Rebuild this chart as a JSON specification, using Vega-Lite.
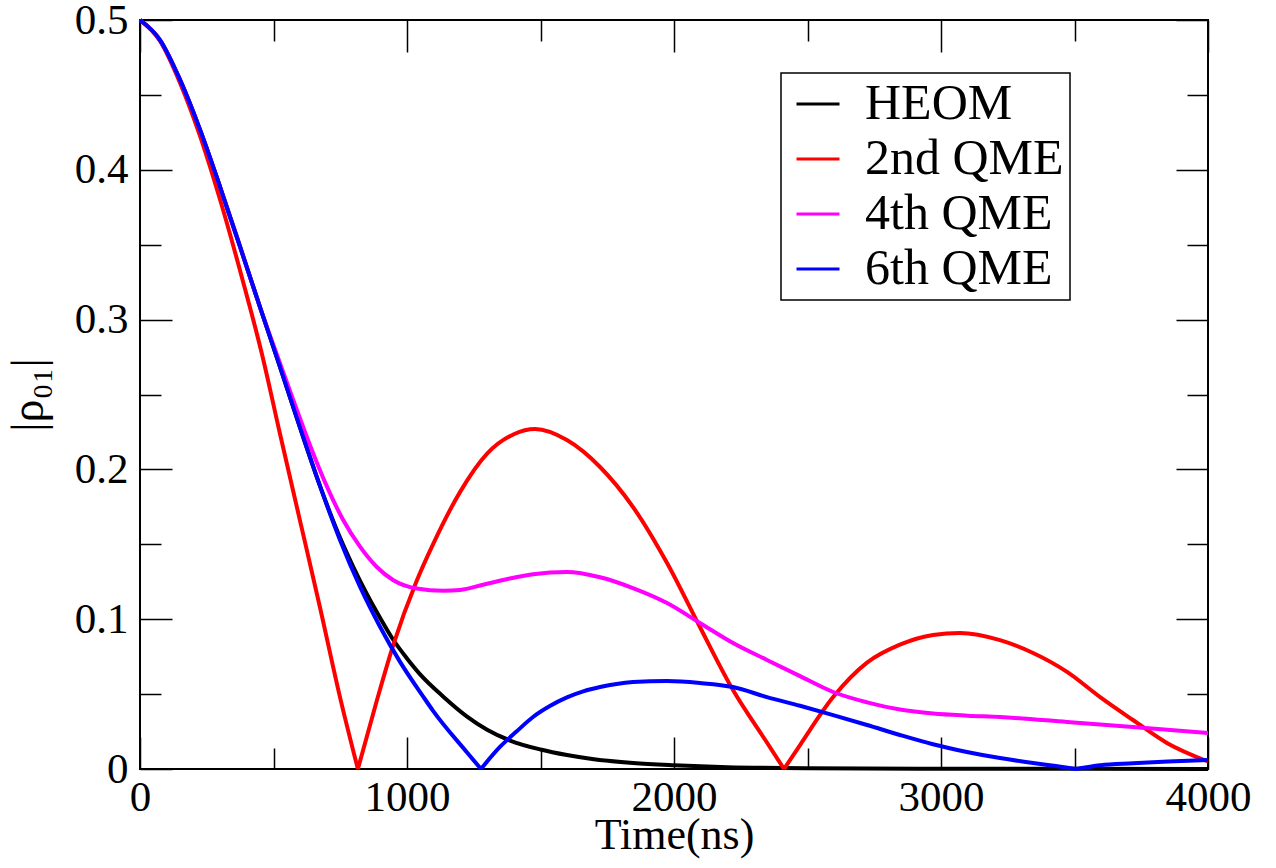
{
  "$schema": "https://vega.github.io/schema/vega-lite/v6.json",
  "width": 1068,
  "height": 749,
  "autosize": {"type": "none"},
  "padding": {"left": 140, "top": 20, "right": 68, "bottom": 99},
  "background": "white",
  "config": {
    "view": {"stroke": "black", "strokeWidth": 2},
    "font": "Liberation Serif",
    "axis": {"domain": false, "grid": false, "tickColor": "black", "tickWidth": 1.5, "labelFont": "Liberation Serif", "titleFont": "Liberation Serif", "labelColor": "black", "titleColor": "black", "titleFontWeight": "normal", "labelFlush": false, "labelOverlap": false}
  },
  "data": {"values": [
    {"s":"HEOM","g":"h","t":0,"v":0.5},{"s":"HEOM","g":"h","t":75,"v":0.4866},{"s":"HEOM","g":"h","t":150,"v":0.46},{"s":"HEOM","g":"h","t":225,"v":0.4266},{"s":"HEOM","g":"h","t":300,"v":0.3885},{"s":"HEOM","g":"h","t":375,"v":0.3485},{"s":"HEOM","g":"h","t":450,"v":0.308},{"s":"HEOM","g":"h","t":524,"v":0.2686},{"s":"HEOM","g":"h","t":600,"v":0.2275},{"s":"HEOM","g":"h","t":674,"v":0.189},{"s":"HEOM","g":"h","t":749,"v":0.1545},{"s":"HEOM","g":"h","t":800,"v":0.1345},{"s":"HEOM","g":"h","t":849,"v":0.117},{"s":"HEOM","g":"h","t":899,"v":0.101},{"s":"HEOM","g":"h","t":949,"v":0.0861},{"s":"HEOM","g":"h","t":1000,"v":0.0738},{"s":"HEOM","g":"h","t":1050,"v":0.063},{"s":"HEOM","g":"h","t":1136,"v":0.0483},{"s":"HEOM","g":"h","t":1225,"v":0.035},{"s":"HEOM","g":"h","t":1300,"v":0.0262},{"s":"HEOM","g":"h","t":1386,"v":0.019},{"s":"HEOM","g":"h","t":1500,"v":0.013},{"s":"HEOM","g":"h","t":1599,"v":0.0093},{"s":"HEOM","g":"h","t":1700,"v":0.0065},{"s":"HEOM","g":"h","t":1847,"v":0.004},{"s":"HEOM","g":"h","t":2000,"v":0.0025},{"s":"HEOM","g":"h","t":2200,"v":0.0012},{"s":"HEOM","g":"h","t":2500,"v":0.0005},{"s":"HEOM","g":"h","t":3000,"v":0.0002},{"s":"HEOM","g":"h","t":3500,"v":0.0001},{"s":"HEOM","g":"h","t":4000,"v":0},
    {"s":"2nd QME","g":"r1","t":0,"v":0.5},{"s":"2nd QME","g":"r1","t":75,"v":0.486},{"s":"2nd QME","g":"r1","t":150,"v":0.458},{"s":"2nd QME","g":"r1","t":225,"v":0.4225},{"s":"2nd QME","g":"r1","t":300,"v":0.38},{"s":"2nd QME","g":"r1","t":385,"v":0.326},{"s":"2nd QME","g":"r1","t":456,"v":0.2775},{"s":"2nd QME","g":"r1","t":524,"v":0.224},{"s":"2nd QME","g":"r1","t":599,"v":0.166},{"s":"2nd QME","g":"r1","t":674,"v":0.108},{"s":"2nd QME","g":"r1","t":749,"v":0.048},{"s":"2nd QME","g":"r1","t":816,"v":0},
    {"s":"2nd QME","g":"r2","t":816,"v":0},{"s":"2nd QME","g":"r2","t":886,"v":0.045},{"s":"2nd QME","g":"r2","t":949,"v":0.083},{"s":"2nd QME","g":"r2","t":1036,"v":0.1255},{"s":"2nd QME","g":"r2","t":1100,"v":0.151},{"s":"2nd QME","g":"r2","t":1199,"v":0.185},{"s":"2nd QME","g":"r2","t":1300,"v":0.2105},{"s":"2nd QME","g":"r2","t":1400,"v":0.2235},{"s":"2nd QME","g":"r2","t":1480,"v":0.227},{"s":"2nd QME","g":"r2","t":1599,"v":0.2196},{"s":"2nd QME","g":"r2","t":1723,"v":0.2016},{"s":"2nd QME","g":"r2","t":1846,"v":0.175},{"s":"2nd QME","g":"r2","t":1974,"v":0.1375},{"s":"2nd QME","g":"r2","t":2097,"v":0.0948},{"s":"2nd QME","g":"r2","t":2221,"v":0.0527},{"s":"2nd QME","g":"r2","t":2348,"v":0.0177},{"s":"2nd QME","g":"r2","t":2412,"v":0},
    {"s":"2nd QME","g":"r3","t":2412,"v":0},{"s":"2nd QME","g":"r3","t":2472,"v":0.016},{"s":"2nd QME","g":"r3","t":2596,"v":0.048},{"s":"2nd QME","g":"r3","t":2723,"v":0.071},{"s":"2nd QME","g":"r3","t":2846,"v":0.083},{"s":"2nd QME","g":"r3","t":2970,"v":0.0895},{"s":"2nd QME","g":"r3","t":3071,"v":0.0908},{"s":"2nd QME","g":"r3","t":3221,"v":0.086},{"s":"2nd QME","g":"r3","t":3345,"v":0.0774},{"s":"2nd QME","g":"r3","t":3472,"v":0.0648},{"s":"2nd QME","g":"r3","t":3596,"v":0.048},{"s":"2nd QME","g":"r3","t":3719,"v":0.0327},{"s":"2nd QME","g":"r3","t":3846,"v":0.0174},{"s":"2nd QME","g":"r3","t":4000,"v":0.005},
    {"s":"4th QME","g":"m","t":0,"v":0.5},{"s":"4th QME","g":"m","t":75,"v":0.4866},{"s":"4th QME","g":"m","t":150,"v":0.46},{"s":"4th QME","g":"m","t":225,"v":0.4266},{"s":"4th QME","g":"m","t":300,"v":0.3885},{"s":"4th QME","g":"m","t":375,"v":0.3485},{"s":"4th QME","g":"m","t":450,"v":0.308},{"s":"4th QME","g":"m","t":524,"v":0.271},{"s":"4th QME","g":"m","t":574,"v":0.2463},{"s":"4th QME","g":"m","t":637,"v":0.216},{"s":"4th QME","g":"m","t":699,"v":0.189},{"s":"4th QME","g":"m","t":761,"v":0.1662},{"s":"4th QME","g":"m","t":824,"v":0.1484},{"s":"4th QME","g":"m","t":886,"v":0.135},{"s":"4th QME","g":"m","t":949,"v":0.126},{"s":"4th QME","g":"m","t":1036,"v":0.1205},{"s":"4th QME","g":"m","t":1136,"v":0.119},{"s":"4th QME","g":"m","t":1199,"v":0.1195},{"s":"4th QME","g":"m","t":1285,"v":0.123},{"s":"4th QME","g":"m","t":1380,"v":0.127},{"s":"4th QME","g":"m","t":1472,"v":0.13},{"s":"4th QME","g":"m","t":1599,"v":0.1315},{"s":"4th QME","g":"m","t":1723,"v":0.128},{"s":"4th QME","g":"m","t":1846,"v":0.1208},{"s":"4th QME","g":"m","t":1974,"v":0.1108},{"s":"4th QME","g":"m","t":2097,"v":0.0975},{"s":"4th QME","g":"m","t":2221,"v":0.0841},{"s":"4th QME","g":"m","t":2348,"v":0.0728},{"s":"4th QME","g":"m","t":2472,"v":0.062},{"s":"4th QME","g":"m","t":2596,"v":0.0514},{"s":"4th QME","g":"m","t":2723,"v":0.0445},{"s":"4th QME","g":"m","t":2846,"v":0.0397},{"s":"4th QME","g":"m","t":2970,"v":0.037},{"s":"4th QME","g":"m","t":3100,"v":0.0356},{"s":"4th QME","g":"m","t":3221,"v":0.0347},{"s":"4th QME","g":"m","t":3472,"v":0.0314},{"s":"4th QME","g":"m","t":3719,"v":0.028},{"s":"4th QME","g":"m","t":4000,"v":0.024},
    {"s":"6th QME","g":"b1","t":0,"v":0.5},{"s":"6th QME","g":"b1","t":75,"v":0.4866},{"s":"6th QME","g":"b1","t":150,"v":0.46},{"s":"6th QME","g":"b1","t":225,"v":0.4266},{"s":"6th QME","g":"b1","t":300,"v":0.3885},{"s":"6th QME","g":"b1","t":375,"v":0.3485},{"s":"6th QME","g":"b1","t":450,"v":0.308},{"s":"6th QME","g":"b1","t":524,"v":0.2686},{"s":"6th QME","g":"b1","t":600,"v":0.2275},{"s":"6th QME","g":"b1","t":674,"v":0.189},{"s":"6th QME","g":"b1","t":749,"v":0.1529},{"s":"6th QME","g":"b1","t":824,"v":0.1217},{"s":"6th QME","g":"b1","t":899,"v":0.095},{"s":"6th QME","g":"b1","t":974,"v":0.0715},{"s":"6th QME","g":"b1","t":1060,"v":0.0485},{"s":"6th QME","g":"b1","t":1097,"v":0.039},{"s":"6th QME","g":"b1","t":1225,"v":0.011},{"s":"6th QME","g":"b1","t":1277,"v":0},
    {"s":"6th QME","g":"b2","t":1277,"v":0},{"s":"6th QME","g":"b2","t":1348,"v":0.0147},{"s":"6th QME","g":"b2","t":1410,"v":0.025},{"s":"6th QME","g":"b2","t":1472,"v":0.0347},{"s":"6th QME","g":"b2","t":1535,"v":0.042},{"s":"6th QME","g":"b2","t":1599,"v":0.0478},{"s":"6th QME","g":"b2","t":1660,"v":0.0518},{"s":"6th QME","g":"b2","t":1723,"v":0.0547},{"s":"6th QME","g":"b2","t":1785,"v":0.0568},{"s":"6th QME","g":"b2","t":1846,"v":0.058},{"s":"6th QME","g":"b2","t":1974,"v":0.0587},{"s":"6th QME","g":"b2","t":2097,"v":0.0574},{"s":"6th QME","g":"b2","t":2221,"v":0.0547},{"s":"6th QME","g":"b2","t":2348,"v":0.048},{"s":"6th QME","g":"b2","t":2472,"v":0.0422},{"s":"6th QME","g":"b2","t":2596,"v":0.036},{"s":"6th QME","g":"b2","t":2723,"v":0.0294},{"s":"6th QME","g":"b2","t":2846,"v":0.0227},{"s":"6th QME","g":"b2","t":2970,"v":0.0165},{"s":"6th QME","g":"b2","t":3097,"v":0.0114},{"s":"6th QME","g":"b2","t":3221,"v":0.0073},{"s":"6th QME","g":"b2","t":3345,"v":0.004},{"s":"6th QME","g":"b2","t":3430,"v":0.002},{"s":"6th QME","g":"b2","t":3505,"v":0},
    {"s":"6th QME","g":"b3","t":3505,"v":0},{"s":"6th QME","g":"b3","t":3596,"v":0.0025},{"s":"6th QME","g":"b3","t":3719,"v":0.0038},{"s":"6th QME","g":"b3","t":3850,"v":0.005},{"s":"6th QME","g":"b3","t":4000,"v":0.006}
  ]},
  "layer": [
    {
      "mark": {"type": "line", "strokeWidth": 4, "interpolate": "monotone"},
      "encoding": {
        "x": {"field": "t", "type": "quantitative", "scale": {"domain": [0, 4000], "nice": false},
          "axis": {"orient": "bottom", "values": [0, 1000, 2000, 3000, 4000], "format": "d", "ticks": false, "labelFontSize": 43, "labelPadding": 7, "title": "Time(ns)", "titleFontSize": 44, "titleBaseline": "alphabetic", "titleY": 79}},
        "y": {"field": "v", "type": "quantitative", "scale": {"domain": [0, 0.5], "nice": false},
          "axis": {"orient": "left", "values": [0, 0.1, 0.2, 0.3, 0.4, 0.5], "format": "~g", "ticks": false, "labelFontSize": 43, "labelPadding": 12, "title": "|ρ₀₁|", "titleFontSize": 46, "titleBaseline": "alphabetic", "titleX": -98}},
        "detail": {"field": "g", "type": "nominal"},
        "color": {"field": "s", "type": "nominal",
          "scale": {"domain": ["HEOM", "2nd QME", "4th QME", "6th QME"], "range": ["#000000", "#ff0000", "#ff00ff", "#0000ff"]},
          "legend": {"orient": "none", "legendX": 641, "legendY": 53, "title": null, "symbolType": "stroke", "symbolSize": 1849, "symbolStrokeWidth": 3, "symbolOffset": 6, "labelFontSize": 50, "labelFont": "Liberation Serif", "labelColor": "black", "labelOffset": 22, "rowPadding": 5, "padding": 6, "strokeColor": "black", "fillColor": "white", "labelLimit": 500,
            "encode": {"legend": {"update": {"strokeWidth": {"value": 1.5}}}}}}
      }
    },
    {
      "mark": {"type": "point", "opacity": 0},
      "encoding": {
        "x": {"field": "t", "type": "quantitative", "scale": {"domain": [0, 4000], "nice": false},
          "axis": {"orient": "bottom", "values": [0, 1000, 2000, 3000, 4000], "tickSize": -32, "labels": false, "title": null}},
        "y": {"field": "v", "type": "quantitative", "scale": {"domain": [0, 0.5], "nice": false},
          "axis": {"orient": "left", "values": [0, 0.1, 0.2, 0.3, 0.4, 0.5], "tickSize": -32, "labels": false, "title": null}}
      }
    },
    {
      "mark": {"type": "point", "opacity": 0},
      "encoding": {
        "x": {"field": "t", "type": "quantitative", "scale": {"domain": [0, 4000], "nice": false},
          "axis": {"orient": "bottom", "values": [500, 1500, 2500, 3500], "tickSize": -21, "labels": false, "title": null}},
        "y": {"field": "v", "type": "quantitative", "scale": {"domain": [0, 0.5], "nice": false},
          "axis": {"orient": "left", "values": [0.05, 0.15, 0.25, 0.35, 0.45], "tickSize": -21, "labels": false, "title": null}}
      }
    },
    {
      "mark": {"type": "point", "opacity": 0},
      "encoding": {
        "x": {"field": "t", "type": "quantitative", "scale": {"domain": [0, 4000], "nice": false},
          "axis": {"orient": "top", "values": [0, 1000, 2000, 3000, 4000], "tickSize": -32, "labels": false, "title": null}},
        "y": {"field": "v", "type": "quantitative", "scale": {"domain": [0, 0.5], "nice": false},
          "axis": {"orient": "right", "values": [0, 0.1, 0.2, 0.3, 0.4, 0.5], "tickSize": -32, "labels": false, "title": null}}
      }
    },
    {
      "mark": {"type": "point", "opacity": 0},
      "encoding": {
        "x": {"field": "t", "type": "quantitative", "scale": {"domain": [0, 4000], "nice": false},
          "axis": {"orient": "top", "values": [500, 1500, 2500, 3500], "tickSize": -21, "labels": false, "title": null}},
        "y": {"field": "v", "type": "quantitative", "scale": {"domain": [0, 0.5], "nice": false},
          "axis": {"orient": "right", "values": [0.05, 0.15, 0.25, 0.35, 0.45], "tickSize": -21, "labels": false, "title": null}}
      }
    }
  ],
  "resolve": {"axis": {"x": "independent", "y": "independent"}}
}
